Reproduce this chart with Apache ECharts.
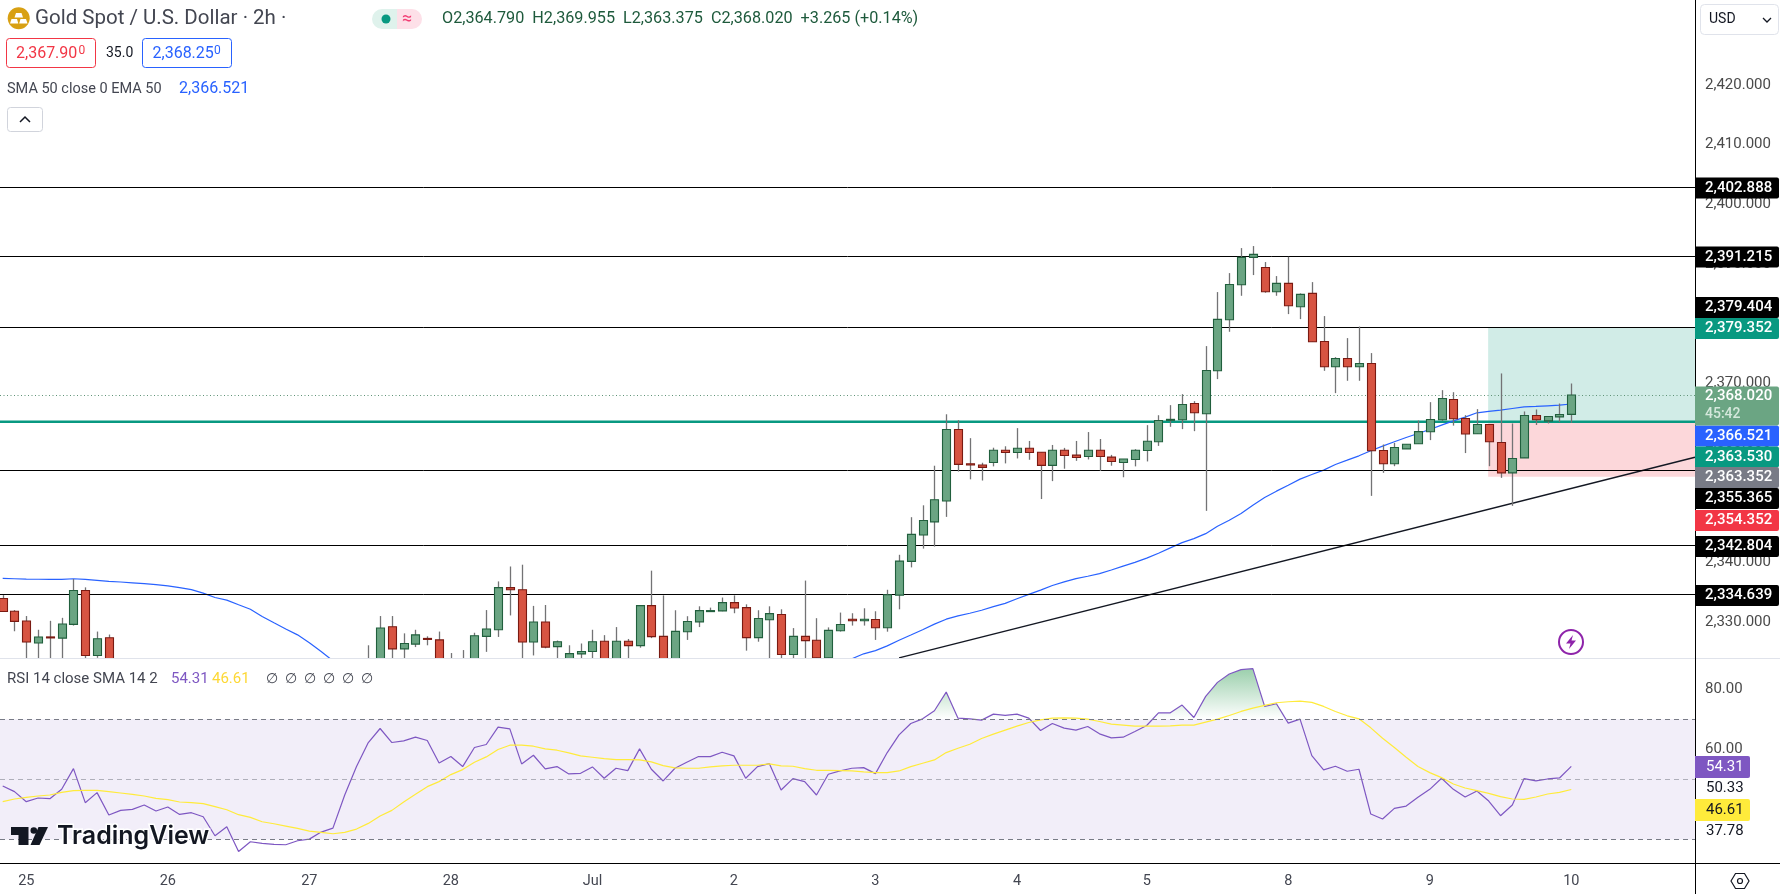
<!DOCTYPE html>
<html>
<head>
<meta charset="utf-8">
<title>Gold Spot / U.S. Dollar</title>
<script src="https://cdn.jsdelivr.net/npm/echarts@6/dist/echarts.min.js"></script>
<style>
  html, body { margin: 0; padding: 0; background: #fff; }
  #chart { width: 1780px; height: 894px; }
</style>
</head>
<body>
<div id="chart"></div>
<script>
// 2h candles, index 0 is the first bar on screen. null = bar sits below the visible pane
var opens = [2333.95,2331.8,2330.16,2326.48,2327.5,2327.3,2329.6,2335.27,2324.4,2327.35,
  null,null,null,null,null,null,null,null,null,null,null,null,null,null,null,null,null,null,null,null,null,
  2320,2322,2329.2,2325.5,2326.3,2327.25,2327,2320,2321,2322.8,2327.6,2328.7,2335.76,2335.4,2326.64,2330,2325.87,2323.5,2324.66,2325.05,
  2326.77,2323.5,2326.77,2326.05,2332.74,2327.6,2323.8,2328.37,2330.03,2331.8,2331.86,2333.24,2332.41,2327.38,2330.37,2331.25,2324.56,2327.6,2326.94,2324,
  2328.54,2330.47,2330.2,2330.42,2329.04,2334.51,2340.15,2344.57,2346.78,2350.27,2362.26,2356.5,2356.3,2356.73,2358.78,2358.4,2359.1,2358.45,2356.24,2358.78,
  2357.95,2357.73,2358.78,2357.62,2356.73,2357.23,2358.72,2360.2,2363.85,2363.87,2366.61,2364.88,2372.08,2380.63,2386.5,2391.08,2389.4,2385.33,2386.72,2382.81,
  2385.05,2377,2372.75,2374.15,2372.75,2373.31,2358.73,2356.5,2359,2359.85,2361.86,2363.87,2367.28,2364.1,2361.53,2363.09,2360.07,2354.99,2357.5,2364.6,
  2363.7,2364.37,2364.79];
var closes = [2331.75,2330.1,2326.64,2327.5,2327.4,2329.66,2335.27,2324.4,2327.2,2322.5,
  null,null,null,null,null,null,null,null,null,null,null,null,null,null,null,null,null,null,null,null,null,
  2322,2329,2325.5,2326.4,2327.85,2327.2,2322,2321,2322.5,2327.7,2328.84,2335.76,2335.4,2326.64,2330,2325.8,2326.7,2324.7,2325.05,2326.7,
  2323.5,2326.77,2326.05,2332.74,2327.55,2323.8,2328.43,2330.09,2331.91,2331.91,2333.24,2332.35,2327.38,2330.58,2331.4,2324.56,2327.6,2326.88,2324,2328.6,
  2329.59,2330.2,2330.47,2329.04,2334.57,2340.2,2344.68,2347,2350.49,2362.26,2356.4,2356.3,2355.9,2358.78,2358.4,2359.1,2358.4,2356.24,2358.78,2357.9,
  2357.56,2358.78,2357.73,2356.9,2357.3,2358.78,2360.27,2363.75,2363.95,2366.44,2365.05,2372.14,2380.69,2386.55,2391.08,2391.58,2385.33,2386.72,2382.98,2384.88,
  2376.94,2372.75,2374.15,2372.75,2373.31,2358.68,2356.5,2359.24,2359.79,2361.9,2363.93,2367.45,2364.04,2361.5,2363.09,2360.19,2354.99,2357.39,2364.6,2363.87,
  2364.43,2364.77,2368.02];
var highs = [2334.5,2332,2331,2328.7,2330.2,2330.7,2337.2,2335.8,2328.4,2327.9,
  null,null,null,null,null,null,null,null,null,null,null,null,null,null,null,null,null,null,null,null,null,
  2326.1,2331,2331,2328.1,2328.7,2327.6,2328.4,2324.8,2325.3,2328.2,2332,2336.8,2339.3,2339.6,2332.7,2332.85,2326.9,2326.1,2326.4,2328.7,
  2327.8,2329.15,2327.16,2332.74,2338.6,2334.46,2331.97,2330.97,2332.63,2332.41,2334.1,2334.46,2332.96,2331.97,2332.63,2332.13,2328.98,2336.94,2330.64,2329.1,
  2331.58,2331.47,2332.3,2331.8,2335.4,2341.26,2347.56,2349.55,2356.18,2364.8,2363.81,2360.8,2356.68,2359.2,2359.44,2362.48,2360.33,2358.45,2359.66,2359.17,
  2360.33,2361.82,2360.66,2358,2357.3,2358.95,2362.98,2364.64,2366.33,2368.17,2367,2376.22,2385.27,2388.45,2392.64,2392.98,2390.3,2387.95,2391.19,2385.05,
  2386.94,2381.25,2374.37,2377.56,2379.5,2375.05,2359.74,2360,2359.79,2363.76,2366.83,2368.84,2368.5,2364.65,2365.66,2363.09,2371.64,2363.26,2365.27,2365.6,
  2364.43,2366.6,2369.955];
var lows = [2331.75,2328.45,2323,2323,2323,2323,2329.4,2323.8,2324,2322,
  null,null,null,null,null,null,null,null,null,null,null,null,null,null,null,null,null,null,null,null,null,
  2319,2321,2323,2323,2325.8,2326.1,2321,2319.5,2320,2322,2325,2327.5,2331.1,2323,2324.4,2325.6,2323,2322.5,2323,2323,
  2322,2322.5,2323,2325.7,2327.3,2323,2323.5,2327,2329.15,2331.7,2331.8,2331.47,2325.2,2326.7,2323.5,2323.8,2323.9,2323,2323,2323.5,
  2328.4,2329.4,2329.4,2327,2328.38,2332.13,2339.15,2342.3,2342.64,2347.61,2355.2,2353.9,2353.7,2356.07,2356.57,2357.4,2357.18,2350.6,2353.6,2355.68,
  2357,2357.23,2355.3,2356.18,2354.25,2356.07,2356.9,2359.5,2362.7,2362.31,2361.97,2348.62,2370.69,2378.62,2384.65,2388.12,2385.16,2384.65,2381.58,2380.74,
  2376.94,2372.08,2368.34,2370.41,2370.41,2351.13,2354.99,2356.1,2359,2359.85,2360.47,2363.7,2362.9,2358.3,2361.53,2356.1,2354.15,2349.46,2357.5,2363,
  2363.26,2363.5,2363.375];

// EMA 50, gap = off the bottom of the pane
var ema50 = [2337.3,2337.25,2337.19,2337.16,2337.13,2337.13,2337.25,2337.13,2336.97,2336.8,2336.7,2336.56,2336.42,2336.26,2336.04,2335.76,2335.43,2334.83,2334.11,2333.67,
  2332.9,2332.14,2330.93,2329.88,2328.84,2327.85,2326.53,2325.05,2323.5,
  null,null,null,null,null,null,null,null,null,null,null,null,null,null,null,null,null,null,null,null,null,null,null,null,null,null,null,null,null,null,null,null,null,null,null,null,null,null,null,null,null,null,null,
  2323.84,2324.67,2325.2,2326,2326.94,2327.82,2328.71,2329.65,2330.47,2331.03,2331.47,2331.97,2332.58,2333.13,2333.9,2334.62,2335.34,2336.11,2336.72,2337.28,
  2337.66,2338.1,2338.71,2339.37,2339.98,2340.7,2341.53,2342.42,2343.3,2343.96,2344.8,2346.05,2347.06,2348.17,2349.57,2350.85,2351.92,2352.92,2353.93,2354.71,
  2355.44,2356.39,2357.11,2357.84,2358.68,2359.46,2360.19,2360.91,2361.58,2362.25,2362.98,2363.7,2364.32,2365.05,2365.27,2365.49,2365.77,2366.05,2366.11,2366.22,
  2366.33,2366.521];

var rsi = [47.78,45.89,42.56,43.78,43.56,46.67,53.56,42.23,45.56,38.11,39.67,40,41.45,39.45,40.78,38.33,38.89,37.56,31.23,34.23,
  26,29.23,28.67,28.34,28.23,29.56,30.11,32.45,33.78,44.78,54.23,62.23,66.89,62.23,62.78,64,62.89,55.45,57.56,54.23,
  60.56,61.56,67.34,66.78,55.11,58,53.45,54.23,51.78,52,54.11,50.34,53.67,52.89,60.11,53.34,49.45,53.67,55.67,57.56,
  57.56,59,57.78,50.34,54.23,55.23,46.45,50.23,49.23,44.78,51.67,52.78,53.67,53.89,51.89,58.89,64.78,68.56,70.11,72.78,
  79,70.34,70.11,69.67,71.67,71.23,71.67,70.34,66.23,68.56,67,66.34,67.56,65.11,63.78,64,65.89,67.89,72.11,72.11,
  74.67,70.56,77.56,82.23,85,86.45,86.78,74.23,75.11,68.67,70,57.89,53.11,54.34,52.67,53.34,38.45,36.78,40.33,41.11,
  44,46.67,50.34,46.67,44.11,46.11,42.78,37.89,41.45,50.23,49.45,50.11,50.45,54.31];
var rsiMa = [42.56,43.45,44,44.45,44.78,45.67,46.23,46.34,46.34,45.89,45.45,45,44.45,43.67,43.23,42.45,42.23,41.89,40.89,39.89,
  38.23,37.34,35.89,35.23,34.45,33.67,32.78,32.34,31.89,32.34,33.45,35.34,37.78,39.67,42.45,45,47.56,49.23,51.56,53.23,
  55.67,57.45,59.89,61.34,61.34,61,60.11,59.67,58.78,57.78,57.34,56.89,56.56,56.56,56.45,55.78,54.56,53.78,53.67,53.67,
  54.11,54.45,54.67,54.67,54.67,55.11,54.45,54.34,53.56,53,53,52.89,52.78,52.45,52.23,52.23,52.78,54.23,55.34,56.45,
  58.89,60.34,61.67,63.56,65,66.34,67.67,68.89,69.78,70.34,70.45,70.34,70,69.23,68.34,68,67.67,67.67,67.67,67.78,
  68,68,69,70,71.23,72.56,73.67,74.56,75.45,75.78,76,75.56,74.23,72.56,71.11,70.11,67.11,63.67,60.56,57.34,
  54.23,52.23,50.56,48.45,47.11,46.23,45.34,44.23,43.45,43.34,44.11,45.11,45.67,46.61];

var priceLevels = [2402.888, 2391.215, 2379.404, 2355.365, 2342.804, 2334.639];
var entryPrice = 2363.53, targetPrice = 2379.352, stopPrice = 2354.352, lastPrice = 2368.02;
var trendBars = [76, 143.49], trendPrices = [2324.0, 2357.6];
var positionStartBar = 125.95;

var priceTicks = [2330, 2340, 2350, 2360, 2370, 2380, 2390, 2400, 2410, 2420];
var rsiTicks = [60, 80];
var rsiLevels = [70, 50, 30];
var timeBars = [2, 14, 26, 38, 50, 62, 74, 86, 97, 109, 121, 133];
var timeLabels = ['25', '26', '27', '28', 'Jul', '2', '3', '4', '5', '8', '9', '10'];

// tags stacked on the price scale: text, colour, centre y on screen
var tagTexts = ['2,402.888', '2,391.215', '2,379.404', '2,379.352', '2,366.521', '2,363.530', '2,363.352', '2,355.365', '2,354.352', '2,342.804', '2,334.639'];
var tagColors = ['#000000', '#000000', '#000000', '#089981', '#2962ff', '#089981', '#787b86', '#000000', '#f23645', '#000000', '#000000'];
var tagCentres = [188, 257, 307.5, 328.5, 436, 457, 477.5, 498.5, 520.5, 546.5, 595.5];

var FONT = 'Roboto, "Liberation Sans", sans-serif';
var AXIS_X = 1695;
var FIRST_SLOT = -0.2289;
var LAST_SLOT = 143.49;

var rows = [];
opens.forEach(function (o, k) {
  if (o !== null) rows.push([k, o, closes[k], lows[k], highs[k]]);
});

function renderCandle(params, api) {
  var k = api.value(0), o = api.value(1), c = api.value(2), l = api.value(3), h = api.value(4);
  var x = Math.round(api.coord([k, o])[0]) + 0.5;
  var yo = api.coord([k, o])[1], yc = api.coord([k, c])[1];
  var yl = api.coord([k, l])[1], yh = api.coord([k, h])[1];
  var up = c >= o;
  var top = Math.min(yo, yc), height = Math.max(Math.abs(yo - yc), 1);
  return {
    type: 'group',
    children: [
      { type: 'line', shape: { x1: x, y1: yh, x2: x, y2: yl }, style: { stroke: '#737375', lineWidth: 1.3 } },
      {
        type: 'rect',
        shape: { x: x - 4, y: top, width: 8, height: height },
        style: { fill: up ? '#6ba583' : '#d75442', stroke: up ? '#215f3d' : '#7a1a12', lineWidth: 1.1 }
      }
    ]
  };
}

function txt(x, y, text, color, size, extra) {
  var style = { x: x, y: y, text: text, fill: color, font: (extra && extra.font) || (size + 'px ' + FONT), verticalAlign: 'middle', align: (extra && extra.align) || 'left' };
  return { type: 'text', z: 110, silent: true, style: style };
}
function box(x, y, w, h, fill, stroke, r, z) {
  return { type: 'rect', z: z || 105, silent: true, shape: { x: x, y: y, width: w, height: h, r: r || 0 }, style: { fill: fill, stroke: stroke || null, lineWidth: 1 } };
}
function rule(x1, y1, x2, y2, color) {
  return { type: 'line', z: 100, silent: true, shape: { x1: x1, y1: y1, x2: x2, y2: y2 }, style: { stroke: color, lineWidth: 1 } };
}

var chrome = [
  // legend top left
  { type: 'circle', z: 105, silent: true, shape: { cx: 18.7, cy: 18.3, r: 11 }, style: { fill: '#d8a013' } },
  { type: 'polygon', z: 106, silent: true, shape: { points: [[16, 13], [21.5, 13], [23, 17.5], [14.5, 17.5]] }, style: { fill: '#fff' } },
  { type: 'polygon', z: 106, silent: true, shape: { points: [[11.5, 19], [17, 19], [18.3, 23.5], [10, 23.5]] }, style: { fill: '#fff' } },
  { type: 'polygon', z: 106, silent: true, shape: { points: [[20.5, 19], [26, 19], [27.5, 23.5], [19.2, 23.5]] }, style: { fill: '#fff' } },
  txt(35, 19, 'Gold Spot / U.S. Dollar \u00b7 2h \u00b7', '#434651', 20.5),
  box(372, 9, 25, 20, '#dff2ec', null, [10, 0, 0, 10]),
  box(397, 9, 25, 20, '#fde0e8', null, [0, 10, 10, 0]),
  { type: 'circle', z: 106, silent: true, shape: { cx: 386, cy: 19, r: 4.5 }, style: { fill: '#089981' } },
  txt(402, 19, '\u2248', '#f23d74', 18),
  txt(442, 19, 'O2,364.790  H2,369.955  L2,363.375  C2,368.020  +3.265 (+0.14%)', '#1e5a3c', 16.2),
  box(6.5, 38.5, 89, 29, '#fff', '#f23645', 3),
  txt(16, 53.5, '2,367.90', '#f23645', 16),
  txt(78.5, 50.5, '0', '#f23645', 12),
  txt(106, 53.5, '35.0', '#131722', 14),
  box(142.5, 38.5, 89, 29, '#fff', '#2962ff', 3),
  txt(152.5, 53.5, '2,368.25', '#2962ff', 16),
  txt(214, 50.5, '0', '#2962ff', 12),
  txt(7, 89, 'SMA 50 close 0 EMA 50', '#434651', 14.5),
  txt(179, 89, '2,366.521', '#2962ff', 16),
  box(7.5, 107.5, 35, 24, '#fff', '#d1d4dc', 3),
  { type: 'polyline', z: 106, silent: true, shape: { points: [[20, 122], [25, 117], [30, 122]] }, style: { stroke: '#131722', lineWidth: 1.5, fill: null } },
  // currency button
  box(1700.5, 4.5, 78, 30, '#fff', '#e0e3eb', 4),
  txt(1709, 19.5, 'USD', '#131722', 14),
  { type: 'polyline', z: 106, silent: true, shape: { points: [[1763, 18], [1767, 22], [1771, 18]] }, style: { stroke: '#131722', lineWidth: 1.3, fill: null } },
  // pane rules
  rule(0, 658.5, 1780, 658.5, '#e0e3eb'),
  rule(0, 863.5, 1780, 863.5, '#000000'),
  rule(AXIS_X + 0.5, 0, AXIS_X + 0.5, 894, '#000000'),
  // rsi legend
  txt(7, 679, 'RSI 14 close SMA 14 2', '#434651', 15),
  txt(171, 679, '54.31', '#7e57c2', 15),
  txt(212, 679, '46.61', '#fdd835', 15),
  txt(266, 679, '\u2205  \u2205  \u2205  \u2205  \u2205  \u2205', '#434651', 14),
  // event marker
  { type: 'circle', z: 105, silent: true, shape: { cx: 1571, cy: 642, r: 12 }, style: { fill: '#fff', stroke: '#8e24aa', lineWidth: 2 } },
  { type: 'polygon', z: 106, silent: true, shape: { points: [[1573, 635], [1566, 643.5], [1570.5, 643.5], [1569, 649], [1576, 640.5], [1571.5, 640.5]] }, style: { fill: '#8e24aa' } },
  // watermark
  { type: 'polygon', z: 105, silent: true, shape: { points: [[11, 827], [28.5, 827], [28.5, 845], [18.5, 845], [18.5, 835], [11, 835]] }, style: { fill: '#131722' } },
  { type: 'circle', z: 105, silent: true, shape: { cx: 33.8, cy: 830.5, r: 3.3 }, style: { fill: '#131722' } },
  { type: 'polygon', z: 105, silent: true, shape: { points: [[38.5, 827], [48, 827], [39.5, 845], [30.5, 845]] }, style: { fill: '#131722' } },
  { type: 'text', z: 110, silent: true, style: { x: 57, y: 836, text: 'TradingView', fill: '#131722', font: '600 25px Inter, sans-serif', verticalAlign: 'middle', stroke: '#fff', lineWidth: 3 } },
  // settings hexagon
  { type: 'polygon', z: 105, silent: true, shape: { points: [[1731, 881], [1735.5, 873.5], [1744.5, 873.5], [1749, 881], [1744.5, 888.5], [1735.5, 888.5]] }, style: { fill: '#fff', stroke: '#131722', lineWidth: 1.2 } },
  { type: 'circle', z: 106, silent: true, shape: { cx: 1740, cy: 881, r: 2.5 }, style: { fill: '#fff', stroke: '#131722', lineWidth: 1.2 } }
];

// price scale tags
tagTexts.forEach(function (t, i) {
  chrome.push(box(AXIS_X, tagCentres[i] - 10.5, 84, 21, tagColors[i], null, [0, 2, 2, 0]));
  chrome.push(txt(1705, tagCentres[i], t, '#ffffff', 15, { font: '500 15px ' + FONT }));
});
// last price tag with countdown
chrome.push(box(AXIS_X, 386.5, 84, 39, '#6ba583', null, [0, 2, 2, 0]));
chrome.push(txt(1705, 396.5, '2,368.020', '#ffffff', 15, { font: '500 15px ' + FONT }));
chrome.push(txt(1705, 414.5, '45:42', '#d5e8dc', 14, { font: '500 14px ' + FONT }));
// rsi scale tags
chrome.push(box(AXIS_X, 756, 55, 22, '#7e57c2', null, [0, 2, 2, 0]));
chrome.push(txt(1706, 767, '54.31', '#ffffff', 15));
chrome.push(box(AXIS_X + 1, 779, 50, 20, '#ffffff'));
chrome.push(txt(1706, 788.5, '50.33', '#131722', 15));
chrome.push(box(AXIS_X, 799, 55, 22, '#ffeb3b', null, [0, 2, 2, 0]));
chrome.push(txt(1706, 810, '46.61', '#131722', 15));
chrome.push(box(AXIS_X + 1, 822, 50, 20, '#ffffff'));
chrome.push(txt(1706, 831.5, '37.78', '#131722', 15));

function fmtPrice(v) {
  return Math.floor(v / 1000) + ',' + (v % 1000 < 100 ? '0' : '') + (v % 1000).toFixed(3);
}
function seriesOf(values) {
  return values.map(function (v, k) { return [k, v === null ? NaN : v]; });
}
function levelLine(value, color, type, width) {
  return { yAxis: value, lineStyle: { color: color, type: type || 'solid', width: width || 1 } };
}
var noLabel = { show: false };

var option = {
  animation: false,
  backgroundColor: '#ffffff',
  textStyle: { fontFamily: FONT },
  graphic: chrome,
  grid: [
    { left: 0, top: 0, width: AXIS_X, height: 658 },
    { left: 0, top: 659, width: AXIS_X, height: 204 }
  ],
  xAxis: [
    { type: 'value', gridIndex: 0, min: FIRST_SLOT, max: LAST_SLOT, show: false, splitLine: { show: false } },
    {
      type: 'value', gridIndex: 1, min: FIRST_SLOT, max: LAST_SLOT, splitLine: { show: false },
      axisLine: { show: false }, axisTick: { show: false },
      axisLabel: {
        customValues: timeBars, color: '#434651', fontSize: 14.5, margin: 11,
        formatter: function (v) { return timeLabels[timeBars.indexOf(v)]; }
      }
    }
  ],
  yAxis: [
    {
      type: 'value', gridIndex: 0, position: 'right', min: 2323.97, max: 2434.2, splitLine: { show: false },
      axisLine: { show: false }, axisTick: { show: false },
      axisLabel: {
        customValues: priceTicks, color: '#4a4a4a', fontSize: 15, margin: 10,
        formatter: function (v) { return fmtPrice(v); }
      }
    },
    {
      type: 'value', gridIndex: 1, position: 'right', min: 22.17, max: 90, splitLine: { show: false },
      axisLine: { show: false }, axisTick: { show: false },
      axisLabel: {
        customValues: rsiTicks, color: '#4a4a4a', fontSize: 15, margin: 10,
        formatter: function (v) { return v.toFixed(2); }
      }
    }
  ],
  series: [
    {
      // entry line, target and stop zones
      type: 'line', name: 'Entry', z: 1, xAxisIndex: 0, yAxisIndex: 0, showSymbol: false,
      data: [[FIRST_SLOT, entryPrice], [LAST_SLOT, entryPrice]],
      lineStyle: { color: '#089981', width: 2.5 },
      markArea: {
        silent: true,
        data: [
          [{ coord: [positionStartBar, targetPrice], itemStyle: { color: 'rgba(8,153,129,0.19)' } }, { coord: [LAST_SLOT, entryPrice] }],
          [{ coord: [positionStartBar, entryPrice], itemStyle: { color: 'rgba(242,54,69,0.2)' } }, { coord: [LAST_SLOT, stopPrice] }]
        ]
      }
    },
    {
      type: 'line', name: 'Levels', z: 2, xAxisIndex: 0, yAxisIndex: 0, showSymbol: false,
      data: [], lineStyle: { width: 0 },
      markLine: {
        silent: true, symbol: 'none', label: noLabel,
        data: priceLevels.map(function (p) { return levelLine(p, '#000000', 'solid', 1); })
          .concat([levelLine(lastPrice, '#5f9377', [1, 2.5], 1)])
      }
    },
    {
      type: 'line', name: 'Trend', z: 2, xAxisIndex: 0, yAxisIndex: 0, showSymbol: false,
      data: [[trendBars[0], trendPrices[0]], [trendBars[1], trendPrices[1]]],
      lineStyle: { color: '#131722', width: 1.3 }
    },
    {
      type: 'line', name: 'EMA 50', z: 3, xAxisIndex: 0, yAxisIndex: 0, showSymbol: false,
      data: seriesOf(ema50), lineStyle: { color: '#2962ff', width: 1.2 }
    },
    {
      type: 'custom', name: 'Gold', z: 5, xAxisIndex: 0, yAxisIndex: 0, clip: true,
      encode: { x: 0, y: [1, 2, 3, 4] }, data: rows, renderItem: renderCandle
    },
    {
      // overbought fill between the rsi and 70
      type: 'line', name: 'Overbought', z: 2, xAxisIndex: 1, yAxisIndex: 1, showSymbol: false,
      data: rsi.map(function (v, k) { return [k, Math.max(v, 70)]; }),
      lineStyle: { width: 0 },
      areaStyle: {
        origin: 70, opacity: 1,
        color: { type: 'linear', x: 0, y: 0, x2: 0, y2: 1, colorStops: [{ offset: 0, color: 'rgba(56,160,90,0.5)' }, { offset: 1, color: 'rgba(56,160,90,0)' }] }
      }
    },
    {
      type: 'line', name: 'RSI', z: 4, xAxisIndex: 1, yAxisIndex: 1, showSymbol: false,
      data: seriesOf(rsi), lineStyle: { color: '#7e57c2', width: 1.2 },
      markArea: {
        silent: true,
        data: [[{ yAxis: rsiLevels[0], itemStyle: { color: 'rgba(126,87,194,0.1)' } }, { yAxis: rsiLevels[2] }]]
      },
      markLine: {
        silent: true, symbol: 'none', label: noLabel,
        data: [
          { yAxis: rsiLevels[0], lineStyle: { color: '#787b86', type: [5, 4], width: 1 } },
          { yAxis: rsiLevels[1], lineStyle: { color: 'rgba(120,123,134,0.55)', type: [5, 4], width: 1 } },
          { yAxis: rsiLevels[2], lineStyle: { color: '#787b86', type: [5, 4], width: 1 } }
        ]
      }
    },
    {
      type: 'line', name: 'RSI MA', z: 4, xAxisIndex: 1, yAxisIndex: 1, showSymbol: false,
      data: seriesOf(rsiMa), lineStyle: { color: '#ffeb3b', width: 1.2 }
    }
  ]
};

var mychart = echarts.init(document.getElementById('chart'));
mychart.setOption(option);
</script>
</body>
</html>
